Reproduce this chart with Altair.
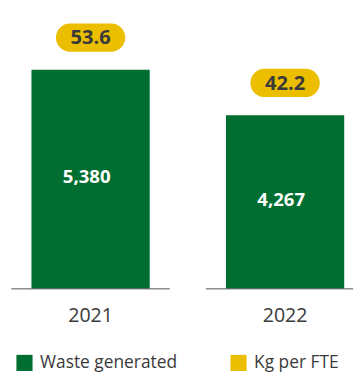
import altair as alt
import pandas as pd

years = ["2021", "2022"]
waste = [5380, 4267]
kg_per_fte = [53.6, 42.2]
kg_labels = ["53.6", "42.2"]
series_bar = "Waste generated"
series_pill = "Kg per FTE"

GREEN = "#006E30"
YELLOW = "#EBBE00"
TEXT = "#3a3a3a"
FONT = "Open Sans"

df = pd.DataFrame({"year": years, "waste": waste, "kg": kg_per_fte, "kglab": kg_labels})

x = alt.X(
    "year:N",
    sort=years,
    scale=alt.Scale(paddingInner=0.3819, paddingOuter=0.0578, align=1, round=False),
    axis=alt.Axis(title=None, domain=False, ticks=False, labelAngle=0, labelFontSize=20,
                  labelColor=TEXT, labelFont=FONT, labelPadding=17),
)
yscale = alt.Scale(domain=[0, 6797], nice=False, zero=True)

base = alt.Chart(df).encode(x=x)

legend_common = dict(title=None, orient="none", legendY=350, symbolType="square",
                     symbolSize=272, symbolStrokeWidth=0, symbolOpacity=1,
                     labelFont=FONT, labelFontSize=17.75, labelColor=TEXT,
                     labelOffset=7, padding=0)

bars = base.mark_bar(width=121, color=GREEN).transform_calculate(
    series="'Waste generated'"
).encode(
    y=alt.Y("waste:Q", scale=yscale, axis=None),
    color=alt.Color(
        "series:N",
        scale=alt.Scale(domain=[series_bar], range=[GREEN]),
        legend=alt.Legend(legendX=8, **legend_common),
    ),
)

baseline = base.mark_tick(size=162, thickness=1.5, color="#5f5f5f").encode(
    y=alt.Y(datum=0, scale=yscale)
)

bar_text = base.mark_text(font=FONT, fontSize=19, fontWeight="bold", color="white",
                          baseline="middle", dx=-4, dy=-2).transform_calculate(
    mid="datum.waste / 2"
).encode(
    y=alt.Y("mid:Q", scale=yscale),
    text=alt.Text("waste:Q", format=","),
)

pill_path = ("M-0.5915,-0.4085 L0.5915,-0.4085 A0.4085,0.4085 0 0 1 0.5915,0.4085 "
             "L-0.5915,0.4085 A0.4085,0.4085 0 0 1 -0.5915,-0.4085 Z")

pills = base.mark_point(shape=pill_path, size=5041, filled=True, opacity=1,
                        strokeWidth=0, yOffset=-33).transform_calculate(
    series2="'Kg per FTE'"
).encode(
    y=alt.Y("waste:Q", scale=yscale),
    fill=alt.Fill(
        "series2:N",
        scale=alt.Scale(domain=[series_pill], range=[YELLOW]),
        legend=alt.Legend(legendX=227, **legend_common),
    ),
)

pill_text = base.mark_text(font=FONT, fontSize=20.5, fontWeight="bold", color=TEXT,
                           baseline="middle", yOffset=-33, dy=1).encode(
    y=alt.Y("waste:Q", scale=yscale),
    text="kglab:N",
)

chart = alt.layer(bars, baseline, bar_text, pills, pill_text).resolve_scale(
    color="independent"
).properties(
    width=345, height=283,
    autosize=alt.AutoSizeParams(type="none"),
    padding={"left": 0, "top": 0, "right": 8, "bottom": 86},
).configure_view(stroke=None)

chart.save("out.html", embed_options={"renderer": "svg", "actions": False})
